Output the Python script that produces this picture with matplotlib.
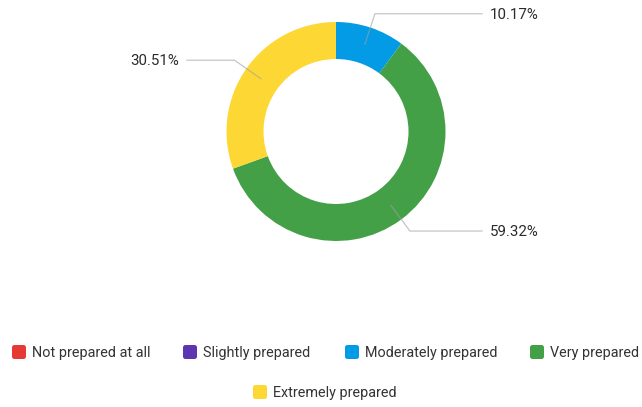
import numpy as np
import matplotlib.pyplot as plt
from matplotlib.patches import FancyBboxPatch

categories = ["Not prepared at all", "Slightly prepared", "Moderately prepared",
              "Very prepared", "Extremely prepared"]
values = [0.0, 0.0, 10.17, 59.32, 30.51]
colors = ["#E53935", "#5E35B1", "#039BE5", "#43A047", "#FDD835"]

W, H = 642, 407
fig = plt.figure(figsize=(W / 100, H / 100), dpi=100)
ax = fig.add_axes([0, 0, 1, 1])

cx, cy = 336, H - 131.5
r_out, ring = 109.5, 37

wedges, _ = ax.pie(values, colors=colors, startangle=90, counterclock=False,
                   center=(cx, cy), radius=r_out,
                   wedgeprops=dict(width=ring, linewidth=0))

# percentage labels with elbow leader lines
total = sum(values)
start = 90.0
for v in values:
    if v <= 0:
        continue
    mid = np.deg2rad(start - v / total * 360 / 2)
    start -= v / total * 360
    p0 = (cx + 92 * np.cos(mid), cy + 92 * np.sin(mid))
    p1 = (cx + 124 * np.cos(mid), cy + 124 * np.sin(mid))
    if np.cos(mid) >= 0:
        x2, tx, ha = 482, 490, "left"
    else:
        x2, tx, ha = 187, 179, "right"
    ax.plot([p0[0], p1[0], x2], [p0[1], p1[1], p1[1]], color="#a0a0a0",
            lw=0.9, alpha=0.6, solid_joinstyle="miter")
    ax.text(tx, p1[1] - 1, f"{v:.2f}%", ha=ha, va="center", fontsize=10.8,
            color="#2b2b2b", family="Roboto")

# legend drawn by hand (two rows, second centred)
leg = [(12, 352), (183, 352), (345, 352), (530, 352), (253, 392)]
for (lx, ly), name, c in zip(leg, categories, colors):
    sq = 14
    ax.add_patch(FancyBboxPatch((lx, H - ly - sq / 2), sq, sq,
                                boxstyle="round,pad=0,rounding_size=2.5",
                                fc=c, ec="none"))
    ax.text(lx + 20, H - ly - 0.5, name, ha="left", va="center", fontsize=10.4,
            color="#333333", family="Roboto")

ax.set_xlim(0, W)
ax.set_ylim(0, H)
ax.set_aspect("auto")
ax.axis("off")

fig.savefig("out.png", dpi=100)
